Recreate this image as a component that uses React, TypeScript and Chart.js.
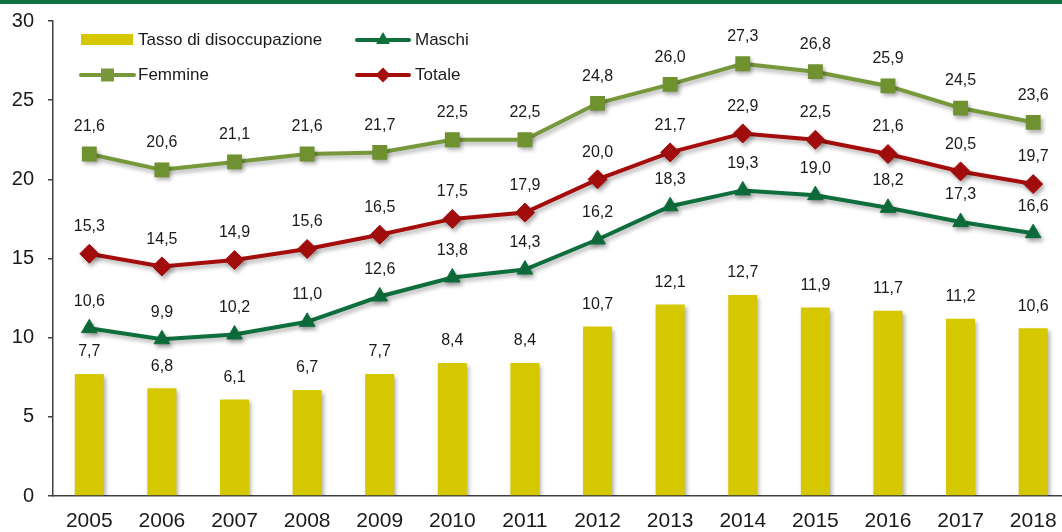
import React, { useEffect, useRef } from 'react';
import { Chart, registerables } from 'chart.js';

Chart.register(...registerables);

const years = ['2005', '2006', '2007', '2008', '2009', '2010', '2011', '2012', '2013', '2014', '2015', '2016', '2017', '2018'];
const tasso = [7.7, 6.8, 6.1, 6.7, 7.7, 8.4, 8.4, 10.7, 12.1, 12.7, 11.9, 11.7, 11.2, 10.6];
const maschi = [10.6, 9.9, 10.2, 11.0, 12.6, 13.8, 14.3, 16.2, 18.3, 19.3, 19.0, 18.2, 17.3, 16.6];
const femmine = [21.6, 20.6, 21.1, 21.6, 21.7, 22.5, 22.5, 24.8, 26.0, 27.3, 26.8, 25.9, 24.5, 23.6];
const totale = [15.3, 14.5, 14.9, 15.6, 16.5, 17.5, 17.9, 20.0, 21.7, 22.9, 22.5, 21.6, 20.5, 19.7];

const legendLabels = ['Tasso di disoccupazione', 'Maschi', 'Femmine', 'Totale'];

const FONT = '"Liberation Sans", Arial, sans-serif';
const C_BAR = '#d6c800';
const C_MASCHI = '#0e6e3c';
const C_FEMMINE = '#77983a';
const C_TOTALE = '#a50d0d';
const C_TOP = '#0e7340';
const TEXT = '#1a1a1a';

const fmt = (v: number) => v.toFixed(1).replace('.', ',');

const topBarPlugin = {
  id: 'topBar',
  beforeDraw(chart: any) {
    const ctx = chart.ctx;
    ctx.save();
    ctx.fillStyle = '#ffffff';
    ctx.fillRect(0, 0, chart.width, chart.height);
    ctx.fillStyle = C_TOP;
    ctx.fillRect(0, 0, chart.width, 4);
    ctx.restore();
  },
};

const shadowPlugin = {
  id: 'shadow',
  beforeDatasetDraw(chart: any) {
    const ctx = chart.ctx;
    ctx.save();
    ctx.shadowColor = 'rgba(0,0,0,0.3)';
    ctx.shadowBlur = 4;
    ctx.shadowOffsetX = 2;
    ctx.shadowOffsetY = 3;
  },
  afterDatasetDraw(chart: any) {
    chart.ctx.restore();
  },
};

const labelPlugin = {
  id: 'valueLabels',
  afterDatasetsDraw(chart: any) {
    const ctx = chart.ctx;
    ctx.save();
    ctx.font = `16px ${FONT}`;
    ctx.fillStyle = TEXT;
    ctx.textAlign = 'center';
    ctx.textBaseline = 'middle';
    chart.data.datasets.forEach((ds: any, i: number) => {
      const meta = chart.getDatasetMeta(i);
      const off = ds.type === 'line' ? 27 : 22;
      meta.data.forEach((el: any, j: number) => {
        ctx.fillText(fmt(ds.data[j]), el.x, el.y - off);
      });
    });
    ctx.restore();
  },
};

function drawMarker(ctx: CanvasRenderingContext2D, kind: string, x: number, y: number, color: string) {
  ctx.fillStyle = color;
  ctx.beginPath();
  if (kind === 'triangle') {
    const r = 8;
    ctx.moveTo(x, y - r);
    ctx.lineTo(x + r * 0.866, y + r * 0.5);
    ctx.lineTo(x - r * 0.866, y + r * 0.5);
    ctx.closePath();
  } else if (kind === 'rect') {
    ctx.rect(x - 6.5, y - 6.5, 13, 13);
  } else {
    const r = 7.5;
    ctx.moveTo(x, y - r);
    ctx.lineTo(x + r, y);
    ctx.lineTo(x, y + r);
    ctx.lineTo(x - r, y);
    ctx.closePath();
  }
  ctx.fill();
}

const legendPlugin = {
  id: 'customLegend',
  afterDraw(chart: any) {
    const ctx = chart.ctx;
    ctx.save();
    ctx.font = `17px ${FONT}`;
    ctx.textBaseline = 'middle';
    ctx.textAlign = 'left';
    ctx.fillStyle = C_BAR;
    ctx.fillRect(81, 34, 52, 11);
    ctx.fillStyle = TEXT;
    ctx.fillText(legendLabels[0], 138, 40);
    const lineEntry = (x1: number, x2: number, y: number, color: string, kind: string, label: string, tx: number) => {
      ctx.strokeStyle = color;
      ctx.lineWidth = 4;
      ctx.lineCap = 'round';
      ctx.beginPath();
      ctx.moveTo(x1, y);
      ctx.lineTo(x2, y);
      ctx.stroke();
      drawMarker(ctx, kind, (x1 + x2) / 2, y, color);
      ctx.fillStyle = TEXT;
      ctx.fillText(label, tx, y);
    };
    lineEntry(357, 409, 40, C_MASCHI, 'triangle', legendLabels[1], 415);
    lineEntry(81, 134, 75, C_FEMMINE, 'rect', legendLabels[2], 138);
    lineEntry(357, 409, 75, C_TOTALE, 'rectRot', legendLabels[3], 415);
    ctx.restore();
  },
};

export default function App() {
  const ref = useRef<HTMLCanvasElement>(null);
  useEffect(() => {
    if (!ref.current) return;
    const chart = new Chart(ref.current, {
      type: 'bar',
      data: {
        labels: years,
        datasets: [
          {
            type: 'line',
            label: 'Femmine',
            data: femmine,
            borderColor: C_FEMMINE,
            backgroundColor: C_FEMMINE,
            borderWidth: 4,
            pointStyle: 'rect',
            pointRadius: 10.5,
            pointBorderWidth: 0,
            pointBackgroundColor: '#6f9130',
            tension: 0,
            order: 1,
          } as any,
          {
            type: 'line',
            label: 'Totale',
            data: totale,
            borderColor: C_TOTALE,
            backgroundColor: C_TOTALE,
            borderWidth: 4,
            pointStyle: 'rectRot',
            pointRadius: 9.5,
            pointBorderWidth: 1,
            pointBackgroundColor: C_TOTALE,
            tension: 0,
            order: 2,
          } as any,
          {
            type: 'line',
            label: 'Maschi',
            data: maschi,
            borderColor: C_MASCHI,
            backgroundColor: C_MASCHI,
            borderWidth: 4,
            pointStyle: 'triangle',
            pointRadius: 9,
            pointBorderWidth: 1,
            pointBackgroundColor: C_MASCHI,
            tension: 0,
            order: 3,
          } as any,
          {
            type: 'bar',
            label: 'Tasso di disoccupazione',
            data: tasso,
            backgroundColor: C_BAR,
            borderWidth: 0,
            barPercentage: 1,
            categoryPercentage: 0.4,
            order: 4,
          } as any,
        ],
      },
      options: {
        responsive: false,
        animation: false,
        layout: { padding: { top: 21, left: 0, right: 0, bottom: 0 } },
        plugins: {
          legend: { display: false },
          tooltip: { enabled: false },
        },
        scales: {
          x: {
            offset: true,
            grid: { display: true, drawOnChartArea: false, drawTicks: false, color: 'rgba(0,0,0,0)' },
            border: { display: true, color: '#404040', width: 1.5 },
            ticks: { color: TEXT, font: { family: FONT, size: 21 }, padding: 13, maxRotation: 0, autoSkip: false },
            afterFit: (s: any) => { s.height = 36; },
          },
          y: {
            min: 0,
            max: 30,
            ticks: { stepSize: 5, color: TEXT, font: { family: FONT, size: 20 }, padding: 14 },
            grid: { drawOnChartArea: false, drawTicks: true, tickLength: 5, color: '#404040', lineWidth: 1.5 },
            border: { display: true, color: '#404040', width: 1.5 },
            afterFit: (s: any) => { s.width = 53; s.paddingTop = 0; s.paddingBottom = 0; },
          },
        },
      },
      plugins: [topBarPlugin, shadowPlugin, labelPlugin, legendPlugin],
    } as any);
    return () => chart.destroy();
  }, []);
  return (
    <div style={{ position: 'absolute', left: 0, top: 0, width: 1062, height: 532, overflow: 'hidden', background: '#fff' }}>
      <canvas ref={ref} width={1080} height={532} style={{ display: 'block' }} />
    </div>
  );
}
